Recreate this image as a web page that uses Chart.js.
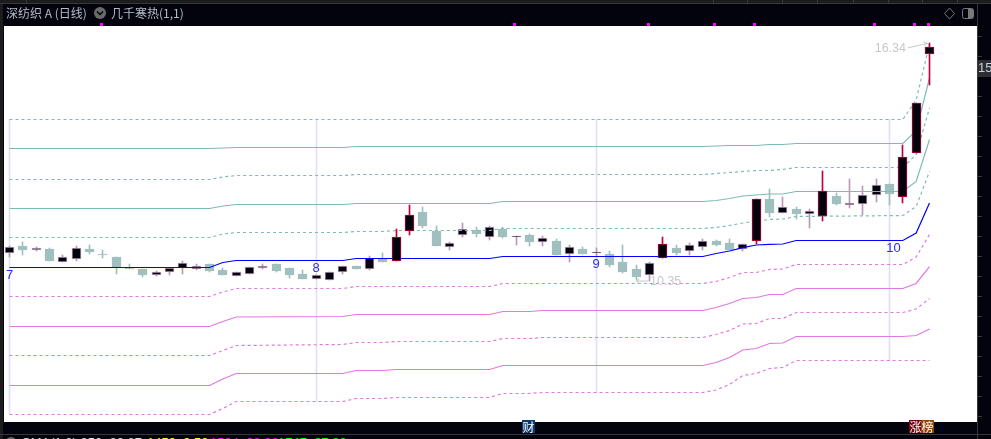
<!DOCTYPE html>
<html lang="en">

<head>
    <meta charset="UTF-8">
    <title>深纺织A 日线</title>
    <script src="https://cdn.jsdelivr.net/npm/chart.js"></script>
    <style>
        body {
            margin: 0;
            background-color: #02030c;
            overflow: hidden;
        }
    </style>
</head>

<body>
    <canvas id="mycanvas" width="991" height="439"></canvas>
    <script>
        // m = 小阳 (紫框), t = 阴线 (灰绿), r = 大阳 (红框)
        const kinds = ['m','t','m','t','m','m','t','t','t','t','t','m','m','m','m','t','t','m','m','m','t','t','t','m','m','m','t','m','t','r','r','t','t','m','m','t','m','t','m','t','m','t','m','t','m','t','t','t','m','r','t','m','m','t','t','m','r','t','m','t','m','r','t','m','m','m','t','r','r','r']
        const highs = [11.22,11.32,11.20,11.17,10.99,11.22,11.25,11.12,10.94,10.77,10.64,10.60,10.67,10.84,10.77,10.77,10.66,10.56,10.68,10.77,10.77,10.67,10.62,10.48,10.56,10.72,10.72,10.96,11.04,11.64,12.25,12.20,11.72,11.32,11.80,11.70,11.72,11.70,11.47,11.52,11.47,11.40,11.24,11.20,11.17,11.09,11.25,10.74,10.82,11.45,11.25,11.30,11.40,11.37,11.40,11.26,12.40,12.66,12.46,12.20,12.15,13.11,12.56,12.91,12.73,12.91,12.78,13.77,14.82,16.34]
        const bodyTops = [11.19,11.22,11.17,11.15,10.94,11.16,11.15,11.03,10.94,10.67,10.64,10.56,10.66,10.78,10.71,10.77,10.62,10.56,10.68,10.72,10.77,10.67,10.52,10.48,10.56,10.71,10.72,10.93,10.89,11.44,11.99,12.08,11.60,11.29,11.64,11.62,11.69,11.65,11.47,11.50,11.41,11.35,11.19,11.15,11.06,11.02,10.82,10.64,10.78,11.26,11.17,11.24,11.34,11.35,11.30,11.26,12.40,12.41,12.20,12.15,12.10,12.60,12.48,12.30,12.50,12.75,12.78,13.46,14.82,16.23]
        const bodyBottoms = [11.04,11.12,11.12,10.84,10.83,10.90,11.07,11.01,10.68,10.65,10.50,10.50,10.56,10.66,10.65,10.59,10.49,10.47,10.51,10.67,10.59,10.49,10.39,10.40,10.37,10.56,10.64,10.65,10.82,10.85,11.61,11.72,11.22,11.20,11.51,11.52,11.46,11.45,11.45,11.32,11.33,10.99,11.01,11.02,11.04,10.74,10.57,10.44,10.48,10.93,11.04,11.09,11.19,11.25,11.12,11.14,11.34,12.05,12.05,12.03,12.02,11.98,12.28,12.25,12.27,12.50,12.53,12.45,13.56,16.05]
        const lows = [10.95,11.00,11.09,10.84,10.81,10.85,11.03,10.93,10.52,10.65,10.44,10.47,10.49,10.52,10.62,10.57,10.49,10.47,10.51,10.63,10.57,10.41,10.39,10.38,10.37,10.52,10.64,10.62,10.82,10.85,11.50,11.67,11.22,11.12,11.46,11.45,11.37,11.42,11.25,11.22,11.22,10.99,10.82,11.02,10.94,10.69,10.54,10.36,10.35,10.93,10.99,10.99,11.12,11.22,11.12,11.10,11.27,11.95,12.05,11.90,11.67,11.85,12.25,12.18,12.00,12.33,12.25,12.31,13.56,15.29]

        // 通道線的轉折點 (K線序號)
        const lineBreaks = [0,15,16,17,25,26,28,29,36,37,39,40,52,53,54,55,56,57,58,59,67,68,69]
        const upper5 = [14.409,14.409,14.409,14.409,14.409,14.409,14.409,14.409,14.409,14.409,14.409,14.409,14.409,14.409,14.409,14.409,14.409,14.409,14.409,14.409,14.409,14.900,16.311]
        const upper4 = [13.678,13.678,13.690,13.703,13.703,13.728,13.728,13.728,13.728,13.728,13.728,13.728,13.728,13.741,13.753,13.753,13.753,13.779,13.779,13.804,13.804,14.119,15.454]
        const upper3 = [12.897,12.897,12.960,12.997,12.997,13.023,13.023,13.023,13.023,13.023,13.023,13.023,13.023,13.048,13.073,13.098,13.123,13.123,13.149,13.199,13.199,13.527,14.698]
        const upper2 = [12.166,12.166,12.229,12.267,12.267,12.292,12.292,12.292,12.292,12.342,12.342,12.342,12.342,12.367,12.418,12.481,12.506,12.531,12.531,12.594,12.594,12.846,13.905]
        const upper1 = [11.435,11.435,11.523,11.561,11.561,11.586,11.586,11.611,11.611,11.662,11.662,11.662,11.662,11.687,11.737,11.800,11.851,11.889,11.901,11.964,11.989,12.216,13.098]
        const middle = [10.679,10.679,10.805,10.855,10.855,10.906,10.906,10.906,10.906,10.956,10.956,10.956,10.956,11.032,11.095,11.178,11.246,11.264,11.271,11.359,11.359,11.548,12.304]
        const lower1 = [9.948,9.948,10.062,10.150,10.150,10.200,10.200,10.200,10.200,10.276,10.276,10.276,10.276,10.326,10.427,10.553,10.553,10.629,10.641,10.755,10.755,10.944,11.511]
        const lower2 = [9.192,9.192,9.318,9.432,9.444,9.495,9.495,9.495,9.495,9.570,9.570,9.595,9.595,9.671,9.772,9.898,9.923,9.999,9.999,10.150,10.150,10.276,10.704]
        const lower3 = [8.461,8.461,8.587,8.713,8.739,8.789,8.789,8.814,8.814,8.890,8.890,8.915,8.915,8.991,9.092,9.255,9.268,9.394,9.394,9.545,9.545,9.633,9.898]
        const lower4 = [7.705,7.705,7.869,8.008,8.008,8.083,8.083,8.109,8.109,8.209,8.209,8.209,8.209,8.285,8.411,8.600,8.638,8.764,8.776,8.940,8.940,8.965,9.129]
        const lower5 = [6.975,6.975,7.126,7.302,7.302,7.378,7.378,7.403,7.403,7.504,7.504,7.529,7.529,7.592,7.731,7.957,8.008,8.134,8.159,8.335,8.335,8.335,8.335]

        // 月份分隔線
        const monthIndex = [0,23,44,66]
        const monthLabels = ['7','8','9','10']
        const monthLabelPrice = [10.48,10.66,10.76,11.17]
        const monthTop = [14.409,14.409,14.409,14.409]
        const monthBottom = [6.975,7.302,7.529,8.335]

        const axisTicks = [16.488,15.984,15.480,14.976,14.472,13.968,13.464,12.960,12.456,11.952,11.448,10.944,10.440,9.936,9.432,8.928,8.424,7.920,7.416,6.912]
        const signalIndex = [7,38,48,53,56,65,68,69]

        const bodyColor = { m: '#b89ab8', t: '#a0bfbf', r: '#c0003c' }
        const teal = '#7cbcb4'
        const pink = '#e078e0'

        function candleDatasets(want, order) {
            const idx = kinds.map((k, i) => i).filter(i => want.includes(kinds[i]))
            return [
                {
                    type: 'bar', grouped: false, order: order, barThickness: 1,
                    data: idx.map(i => ({ x: i, y: [lows[i], highs[i]] })),
                    backgroundColor: idx.map(i => bodyColor[kinds[i]])
                },
                {
                    type: 'bar', grouped: false, order: order - 0.5, barThickness: 9,
                    borderWidth: 1, borderSkipped: false,
                    data: idx.map(i => ({ x: i, y: [bodyBottoms[i], bodyTops[i]] })),
                    backgroundColor: idx.map(i => kinds[i] === 't' ? bodyColor.t : '#02030c'),
                    borderColor: idx.map(i => bodyColor[kinds[i]])
                }
            ]
        }

        function lineDataset(values, color, dashed) {
            return {
                type: 'line', order: 2,
                data: lineBreaks.map((x, k) => ({ x: x, y: values[k] })),
                borderColor: color, borderWidth: 1.2,
                borderDash: dashed ? [3, 3] : [],
                pointRadius: 0, tension: 0
            }
        }

        // 畫面外框、文字標註
        const decoration = {
            id: 'decoration',
            beforeDatasetsDraw(chart) {
                const a = chart.chartArea
                const c = chart.ctx
                c.fillStyle = '#ffffff'
                c.fillRect(a.left, a.top, a.right - a.left, a.bottom - a.top)
                // K線對齊到整數像素，不然邊框會糊掉
                chart.data.datasets.forEach((ds, n) => {
                    if (ds.type !== 'bar') return
                    chart.getDatasetMeta(n).data.forEach(el => {
                        el.x = Math.floor(el.x) + 0.5
                        el.y = Math.round(el.y)
                        el.base = Math.round(el.base)
                        // 十字星至少留一條線
                        if (el.base === el.y) el.base = el.y + 1
                    })
                })
            },
            afterDatasetsDraw(chart) {
                const c = chart.ctx
                const x = chart.scales.x
                const y = chart.scales.y
                c.save()
                c.textBaseline = 'middle'

                // 月份
                c.font = '13px "Liberation Sans"'
                c.fillStyle = '#2a2af0'
                c.textAlign = 'center'
                monthLabels.forEach((t, k) => {
                    const off = t === '10' ? 4 : 0
                    c.fillText(t, x.getPixelForValue(monthIndex[k]) + off, y.getPixelForValue(monthLabelPrice[k]))
                })

                // 最高 最低
                c.font = '12.5px "Liberation Sans"'
                c.fillStyle = '#c8c8c8'
                c.strokeStyle = '#c8c8c8'
                c.lineWidth = 1
                c.textAlign = 'right'
                const hx = x.getPixelForValue(69)
                const hy = y.getPixelForValue(16.34)
                c.fillText('16.34', hx - 23.5, hy + 6)
                c.beginPath()
                c.moveTo(hx - 21.5, hy + 5)
                c.lineTo(hx - 2, hy + 0.5)
                c.moveTo(hx - 6, hy - 1)
                c.lineTo(hx - 2, hy + 0.5)
                c.lineTo(hx - 5, hy + 3)
                c.stroke()
                const lx = x.getPixelForValue(48)
                const ly = y.getPixelForValue(10.35)
                c.textAlign = 'left'
                c.fillText('10.35', lx + 0.5, ly + 1)
                c.beginPath()
                c.moveTo(lx - 1, ly + 0.5)
                c.lineTo(lx - 13, ly + 0.5)
                c.lineTo(lx - 10, ly - 2)
                c.moveTo(lx - 13, ly + 0.5)
                c.lineTo(lx - 10, ly + 3)
                c.stroke()

                // 頂部訊號點
                c.fillStyle = '#ff00ff'
                signalIndex.forEach(i => {
                    c.fillRect(Math.round(x.getPixelForValue(i)) - 3, 23, 3, 3)
                })

                // 頂部工具列
                c.fillStyle = '#1c1c1e'
                c.fillRect(0, 0, 991, 3)
                c.fillRect(0, 0, 3, 439)
                c.fillStyle = '#38383a'
                c.fillRect(0, 3, 991, 1)
                ;[26, 713, 747, 782, 817, 853, 888, 922, 957].forEach(t => c.fillRect(t, 0, 1, 3))
                c.fillRect(977, 4, 1, 435)

                c.textAlign = 'left'
                c.font = '12px "Noto Sans CJK SC"'
                c.fillStyle = '#b4bcc8'
                c.fillText('深纺织 A (日线)', 6, 13)
                c.fillText('几千寒热(1,1)', 111, 13)
                c.fillStyle = '#6a6a6a'
                c.beginPath()
                c.arc(100, 13, 6, 0, Math.PI * 2)
                c.fill()
                c.strokeStyle = '#02030c'
                c.lineWidth = 1.5
                c.beginPath()
                c.moveTo(97, 11.5)
                c.lineTo(100, 14.5)
                c.lineTo(103, 11.5)
                c.stroke()

                c.strokeStyle = '#7a7a7a'
                c.lineWidth = 1
                c.beginPath()
                c.moveTo(949.5, 8)
                c.lineTo(954.5, 13.5)
                c.lineTo(949.5, 19)
                c.lineTo(944.5, 13.5)
                c.closePath()
                c.stroke()
                c.beginPath()
                c.roundRect(962.5, 8.5, 11, 10, 2)
                c.stroke()
                c.fillStyle = '#7a7a7a'
                c.fillRect(968, 9, 5, 9)

                // 現價
                c.fillStyle = '#2c2e34'
                c.fillRect(978, 60, 13, 17)
                c.font = '13px "Liberation Sans"'
                c.fillStyle = '#c8d0d8'
                c.fillText('15', 978, 68)

                // 財 / 漲 / 榜
                c.font = '12px "Noto Sans CJK SC"'
                c.textAlign = 'center'
                const badges = [['财', 39, 522, '#0a3a6e'], ['涨', 68, 909, '#7a0010'], ['榜', 69, 921, '#8a4a08']]
                badges.forEach(b => {
                    c.fillStyle = b[3]
                    c.fillRect(b[2], 420, 13, 13)
                    c.fillStyle = '#ffffff'
                    c.fillText(b[0], b[2] + 6.5, 427)
                })

                // 底部指標列 (只露出文字頂端)
                c.fillStyle = '#38383a'
                c.fillRect(0, 434, 991, 1)
                c.fillStyle = '#6a6a6a'
                c.beginPath()
                c.arc(11, 443, 6, 0, Math.PI * 2)
                c.fill()
                c.textAlign = 'left'
                c.textBaseline = 'alphabetic'
                c.font = '13px "Liberation Sans"'
                c.fillStyle = '#d8d8d8'
                c.fillText('SMA(1,3) 250: 33.87', 22, 447)
                c.fillStyle = '#ffff00'
                c.fillText('1450: 9.50', 147, 447)
                c.fillStyle = '#ff00ff'
                c.fillText('1594: 38.98', 210, 447)
                c.fillStyle = '#00ff00'
                c.fillText('1747: 87.88', 278, 447)
                c.restore()
            }
        }

        window.onload = () => {
            new Chart(document.getElementById('mycanvas'), {
                type: 'bar',
                plugins: [decoration],
                data: {
                    datasets: [
                        {
                            type: 'bar', grouped: false, order: 6, barThickness: 1,
                            data: monthIndex.map((i, k) => ({ x: i, y: [monthBottom[k], monthTop[k]] })),
                            backgroundColor: '#e0e0f2'
                        },
                        ...candleDatasets(['m', 't'], 5),
                        lineDataset(upper5, teal, true),
                        lineDataset(upper4, teal, false),
                        lineDataset(upper3, teal, true),
                        lineDataset(upper2, teal, false),
                        lineDataset(upper1, teal, true),
                        lineDataset(middle, '#0000ff', false),
                        lineDataset(lower1, pink, true),
                        lineDataset(lower2, pink, false),
                        lineDataset(lower3, pink, true),
                        lineDataset(lower4, pink, false),
                        lineDataset(lower5, pink, true),
                        ...candleDatasets(['r'], 1)
                    ]
                },
                options: {
                    responsive: false,
                    animation: false,
                    layout: { padding: { left: 4, top: 26, right: 0, bottom: 17 } },
                    plugins: { legend: { display: false }, tooltip: { enabled: false } },
                    scales: {
                        x: {
                            type: 'linear', display: false, offset: false,
                            min: -0.4125, max: 72.5625
                        },
                        y: {
                            position: 'right',
                            min: 6.7856, max: 16.7648,
                            afterFit(scale) { scale.width = 14 },
                            afterBuildTicks(scale) { scale.ticks = axisTicks.map(v => ({ value: v })) },
                            border: { display: false },
                            grid: { drawOnChartArea: false, tickLength: 5, tickColor: '#38383a' },
                            ticks: { callback: () => '', padding: 0 }
                        }
                    }
                }
            })
        }
    </script>
</body>

</html>
